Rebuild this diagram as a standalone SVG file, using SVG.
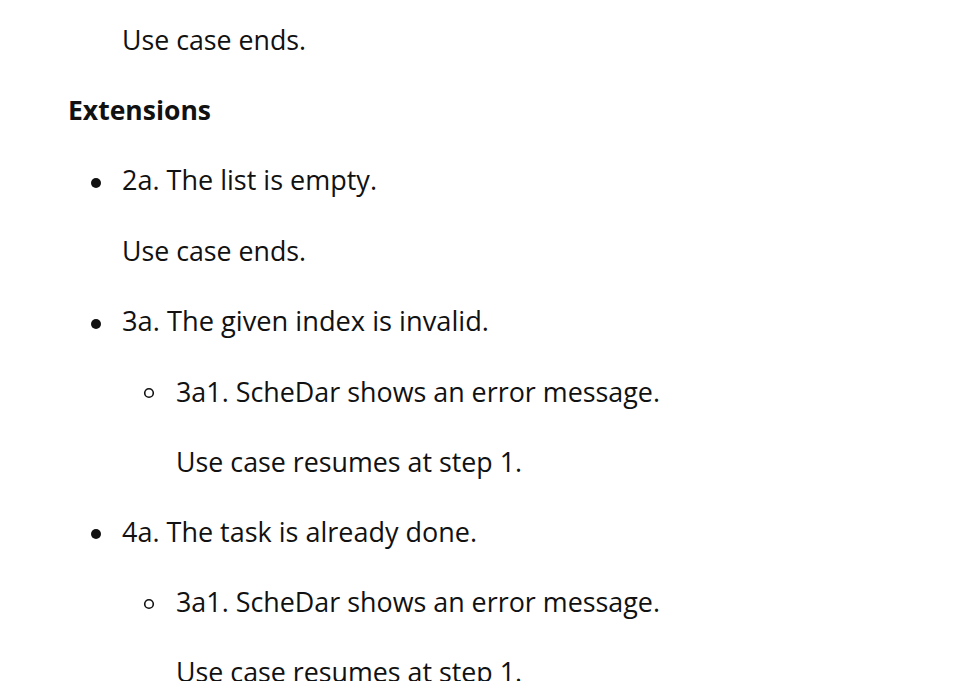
<svg xmlns="http://www.w3.org/2000/svg" width="964" height="681" viewBox="0 0 964 681">
<style>
text{font-family:"Open Sans","Noto Sans","DejaVu Sans",sans-serif;font-size:27px;fill:#111}
.b{font-weight:bold}
.dot{fill:#111}
.ring{fill:none;stroke:#111;stroke-width:1.6}
</style>
<rect width="964" height="681" fill="#fff"/>
<text x="122" y="50" textLength="184" lengthAdjust="spacingAndGlyphs">Use case ends.</text>
<text class="b" x="68" y="120" textLength="143" lengthAdjust="spacingAndGlyphs">Extensions</text>
<circle class="dot" cx="96" cy="183" r="5"/>
<text x="122" y="190" textLength="255" lengthAdjust="spacingAndGlyphs">2a. The list is empty.</text>
<text x="122" y="261" textLength="184" lengthAdjust="spacingAndGlyphs">Use case ends.</text>
<circle class="dot" cx="96" cy="324" r="5"/>
<text x="122" y="331" textLength="367" lengthAdjust="spacingAndGlyphs">3a. The given index is invalid.</text>
<circle class="ring" cx="149" cy="393" r="4.3"/>
<text x="176" y="402" textLength="484" lengthAdjust="spacingAndGlyphs">3a1. ScheDar shows an error message.</text>
<text x="176" y="472" textLength="346" lengthAdjust="spacingAndGlyphs">Use case resumes at step 1.</text>
<circle class="dot" cx="96" cy="534" r="5"/>
<text x="122" y="542" textLength="355" lengthAdjust="spacingAndGlyphs">4a. The task is already done.</text>
<circle class="ring" cx="149" cy="604" r="4.3"/>
<text x="176" y="612" textLength="484" lengthAdjust="spacingAndGlyphs">3a1. ScheDar shows an error message.</text>
<text x="176" y="682" textLength="346" lengthAdjust="spacingAndGlyphs">Use case resumes at step 1.</text>
</svg>
